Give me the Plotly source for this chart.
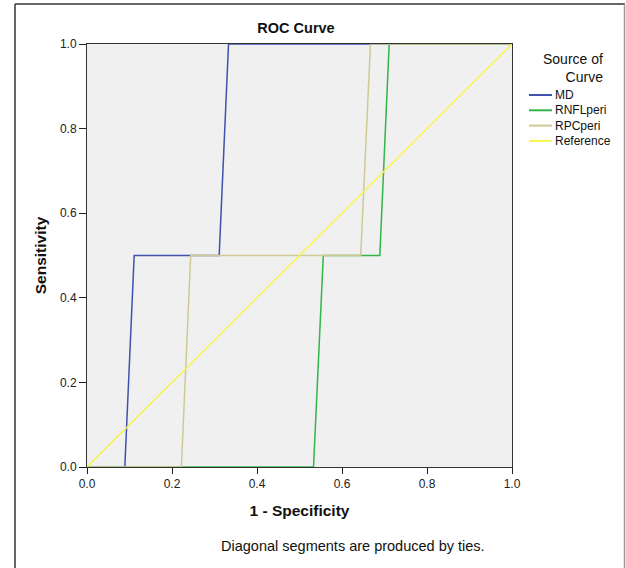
import plotly.graph_objects as go

# ROC data (1 - specificity, sensitivity)
md_fpr = [0.0, 0.089, 0.111, 0.311, 0.333, 1.0]
md_tpr = [0.0, 0.0, 0.5, 0.5, 1.0, 1.0]
rnfl_fpr = [0.0, 0.533, 0.556, 0.689, 0.711, 1.0]
rnfl_tpr = [0.0, 0.0, 0.5, 0.5, 1.0, 1.0]
rpc_fpr = [0.0, 0.222, 0.244, 0.644, 0.667, 1.0]
rpc_tpr = [0.0, 0.0, 0.5, 0.5, 1.0, 1.0]
ref_fpr = [0.0, 1.0]
ref_tpr = [0.0, 1.0]

tick_vals = [0.0, 0.2, 0.4, 0.6, 0.8, 1.0]
tick_text = ["0.0", "0.2", "0.4", "0.6", "0.8", "1.0"]

series_names = ["MD", "RNFLperi", "RPCperi", "Reference"]
series_colors = ["#3e52ae", "#33b54a", "#cfc994", "#f7f44b"]

FONT = "Liberation Sans, Arial, sans-serif"
W, H = 626, 568
L, R, T, B = 87, 512, 44, 467  # plot area in pixels


def px(x):
    return (x - L) / (R - L)


def py(y):
    return (B - y) / (B - T)


fig = go.Figure()
data = [(md_fpr, md_tpr), (rnfl_fpr, rnfl_tpr), (rpc_fpr, rpc_tpr), (ref_fpr, ref_tpr)]
for name, (x, y), c in zip(series_names, data, series_colors):
    fig.add_trace(go.Scatter(x=x, y=y, mode="lines", name=name,
                             line=dict(color=c, width=1.5), showlegend=False))

fig.update_layout(
    width=W, height=H,
    margin=dict(l=L, r=W - R, t=T, b=H - B),
    paper_bgcolor="white",
    plot_bgcolor="#f0f0f0",
    font=dict(family=FONT, size=12, color="#222"),
    title=dict(text="<b>ROC Curve</b>", x=296 / W, xanchor="center",
               y=1 - 28 / H, yanchor="middle",
               font=dict(size=14.5, color="#111")),
)
fig.update_xaxes(range=[0, 1], tickvals=tick_vals, ticktext=tick_text,
                 showgrid=False, zeroline=False, showline=True, mirror=True,
                 linecolor="#333", linewidth=1, ticks="outside", ticklen=6,
                 tickcolor="#222",
                 title=dict(text="<b>1 - Specificity</b>", standoff=14,
                            font=dict(size=15.5, color="#111")))
fig.update_yaxes(range=[0, 1], tickvals=tick_vals, ticktext=tick_text,
                 showgrid=False, zeroline=False, showline=True, mirror=True,
                 linecolor="#333", linewidth=1, ticks="outside", ticklen=7,
                 tickcolor="#222",
                 title=dict(text="<b>Sensitivity</b>", standoff=9,
                            font=dict(size=15.5, color="#111")))

# legend title, right-aligned like the original
fig.add_annotation(text="Source of<br>Curve", xref="paper", yref="paper",
                   x=px(605), y=py(49), xanchor="right",
                   yanchor="top", align="right", showarrow=False,
                   font=dict(size=14, color="#111"))
# legend entries
for i, (name, c) in enumerate(zip(series_names, series_colors)):
    yy = 95 + i * 15.3
    fig.add_shape(type="line", xref="paper", yref="paper",
                  x0=px(529), x1=px(552), y0=py(yy), y1=py(yy),
                  line=dict(color=c, width=2))
    fig.add_annotation(text=name, xref="paper", yref="paper",
                       x=px(553), y=py(yy), xanchor="left", yanchor="middle",
                       showarrow=False, font=dict(size=12, color="#111"))

# footnote
fig.add_annotation(text="Diagonal segments are produced by ties.",
                   xref="paper", yref="paper", x=px(353),
                   y=py(546), xanchor="center", yanchor="middle",
                   showarrow=False, font=dict(size=14.5, color="#111"))
# outer frame
fig.add_shape(type="line", xref="paper", yref="paper",
              x0=px(15), x1=px(15), y0=py(575), y1=py(4),
              line=dict(color="#333", width=1.5))
fig.add_shape(type="line", xref="paper", yref="paper",
              x0=px(15), x1=px(625), y0=py(4), y1=py(4),
              line=dict(color="#333", width=1.5))
fig.add_shape(type="line", xref="paper", yref="paper",
              x0=px(624.5), x1=px(624.5), y0=py(575), y1=py(4),
              line=dict(color="#999", width=1.5))

fig.write_html("out.html",
               config={"displayModeBar": False},
               post_script="document.body.style.margin='0';"
                           "document.body.style.overflow='hidden';")
